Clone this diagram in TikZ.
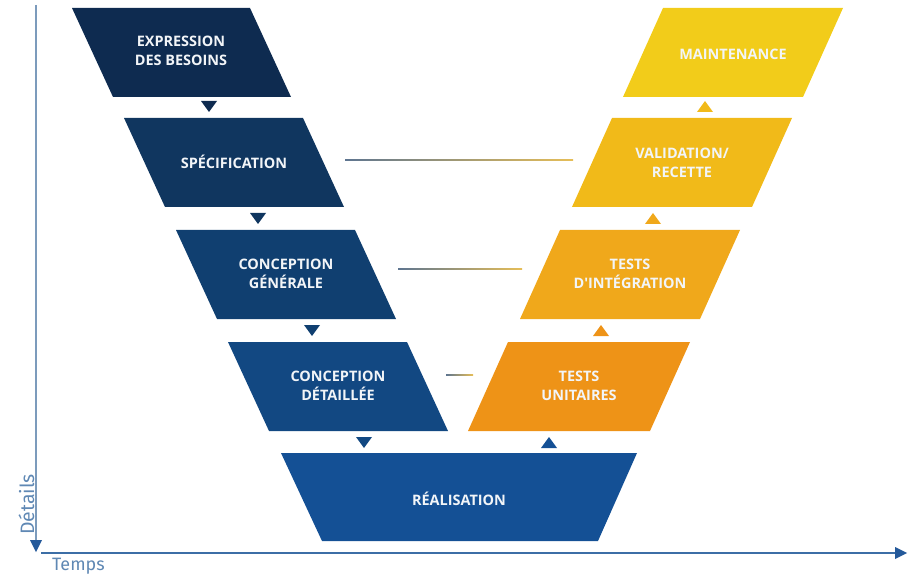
\documentclass[tikz,border=0pt]{standalone}
\usepackage{fontspec}
\setmainfont{Open Sans}
\newfontfamily\axisfont{Fira Sans}
\usetikzlibrary{arrows.meta}
\definecolor{cA}{HTML}{0E2B50}
\definecolor{cB}{HTML}{10365F}
\definecolor{cC}{HTML}{103F70}
\definecolor{cD}{HTML}{124882}
\definecolor{cR}{HTML}{145095}
\definecolor{cTU}{HTML}{EE9317}
\definecolor{cTI}{HTML}{F0A81B}
\definecolor{cVR}{HTML}{F1BA19}
\definecolor{cMA}{HTML}{F2CC1A}
\definecolor{axV}{HTML}{7C9BBC}
\definecolor{axH}{HTML}{3C6EA6}
\definecolor{axT}{HTML}{24599A}
\definecolor{lblue}{HTML}{5F88B4}
\definecolor{lineL}{HTML}{5E7590}
\definecolor{lineR}{HTML}{E6BE58}
\definecolor{txt}{HTML}{F2F5F8}
\tikzset{
  lbl/.style={text=txt, font=\fontsize{14.5}{19}\selectfont\bfseries, align=center, inner sep=0pt},
  axlbl/.style={text=lblue, font=\axisfont\fontsize{18}{18}\selectfont, inner sep=0pt},
}
\begin{document}
\begin{tikzpicture}[x=1bp,y=-1bp]
\useasboundingbox (0,0) rectangle (917,574);
% boxes left
\fill[cA] (72,8) -- (250,8) -- (291,97) -- (113,97) -- cycle;
\node[lbl] (exp) at (181,51) {EXPRESSION\\DES BESOINS};
\fill[cB] (124,118) -- (303,118) -- (344,207) -- (165,207) -- cycle;
\node[lbl] (spe) at (234,162) {SPÉCIFICATION};
\fill[cC] (176,230) -- (355,230) -- (396,319) -- (217,319) -- cycle;
\node[lbl] (cg) at (286,274) {CONCEPTION\\GÉNÉRALE};
\fill[cD] (228,342) -- (407,342) -- (448,431) -- (269,431) -- cycle;
\node[lbl] (cd) at (338,386) {CONCEPTION\\DÉTAILLÉE};
% realisation
\fill[cR] (281,453) -- (637,453) -- (598,541) -- (322,541) -- cycle;
\node[lbl] (rea) at (459,499) {RÉALISATION};
% boxes right
\fill[cTU] (508,342) -- (690,342) -- (650,431) -- (468,431) -- cycle;
\node[lbl] (tu) at (579,386) {TESTS\\UNITAIRES};
\fill[cTI] (560,230) -- (740,230) -- (700,319) -- (520,319) -- cycle;
\node[lbl] (ti) at (630,274) {TESTS\\D\textquotesingle INTÉGRATION};
\fill[cVR] (612,118) -- (792,118) -- (752,207) -- (572,207) -- cycle;
\node[lbl] (vr) at (682,163) {VALIDATION/\\RECETTE};
\fill[cMA] (663,8) -- (843,8) -- (803,97) -- (623,97) -- cycle;
\node[lbl] (ma) at (733,54) {MAINTENANCE};
% small arrows down
\fill[cA] (201,101) -- (217,101) -- (209,112) -- cycle;
\fill[cB] (250,213) -- (266,213) -- (258,224) -- cycle;
\fill[cC] (304,325) -- (320,325) -- (312,336) -- cycle;
\fill[cD] (356,437) -- (372,437) -- (364,448) -- cycle;
% small arrows up
\fill[cR] (541,448) -- (557,448) -- (549,437) -- cycle;
\fill[cTU] (593,336) -- (609,336) -- (601,325) -- cycle;
\fill[cTI] (645,224) -- (661,224) -- (653,213) -- cycle;
\fill[cVR] (697,112) -- (713,112) -- (705,101) -- cycle;
% horizontal links
\coordinate (l1a) at (345,160); \coordinate (l1b) at (573,160);
\coordinate (l2a) at (398,269); \coordinate (l2b) at (522,269);
\coordinate (l3a) at (446,375); \coordinate (l3b) at (473,375);
\shade[left color=lineL, right color=lineR] ([yshift=-0.7bp]l1a) rectangle ([yshift=0.7bp]l1b);
\shade[left color=lineL, right color=lineR] ([yshift=-0.7bp]l2a) rectangle ([yshift=0.7bp]l2b);
\shade[left color=lineL, right color=lineR] ([yshift=-0.7bp]l3a) rectangle ([yshift=0.7bp]l3b);
% axes
\coordinate (o) at (41,553);
\coordinate (vtop) at (36,5);
\coordinate (vend) at (36,552);
\coordinate (hend) at (907,553);
\draw[axV, line width=1.3bp] (vtop) -- (36,541);
\fill[axT] (30,540) -- (42,540) -- (vend) -- cycle;
\draw[axH, line width=1.3bp] (o) -- (896,553);
\fill[axT] (895,547) -- (895,559) -- (hend) -- cycle;
\node[axlbl, rotate=90, anchor=base west, font=\axisfont\fontsize{19.5}{19.5}\selectfont] (det) at (34,535) {Détails};
\node[axlbl, anchor=base west] (tps) at (52,570) {Temps};
\end{tikzpicture}
\end{document}
